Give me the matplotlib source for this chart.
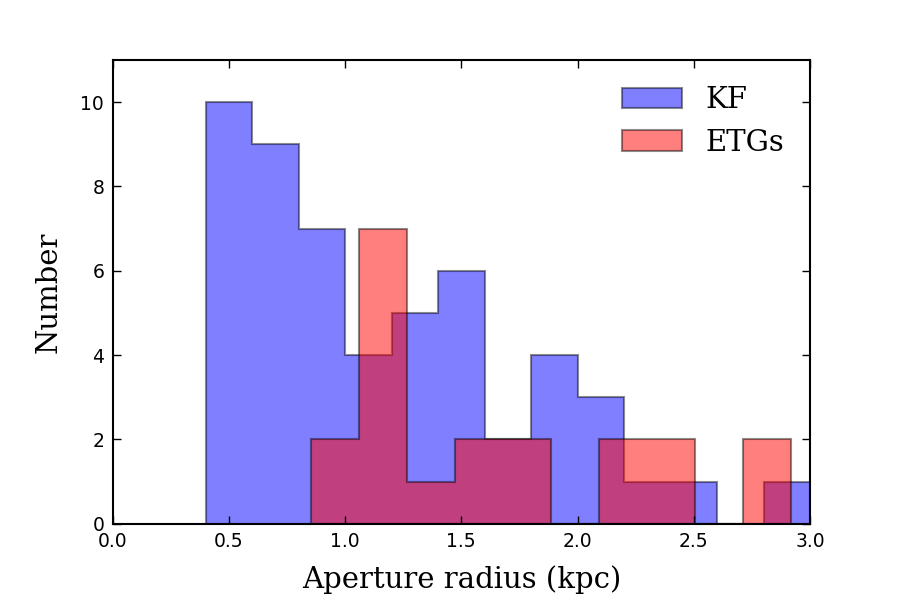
import matplotlib
matplotlib.use("Agg")
import matplotlib.pyplot as plt

# ---- dados ----
kf_edges = [0.4, 0.6, 0.8, 1.0, 1.2, 1.4, 1.6, 1.8, 2.0, 2.2, 2.4, 2.6, 2.8, 3.0]
kf_counts = [10, 9, 7, 4, 5, 6, 2, 4, 3, 1, 1, 0, 1]

etg_edges = [0.852, 1.059, 1.265, 1.472, 1.678, 1.885, 2.092, 2.298, 2.505, 2.711, 2.918]
etg_counts = [2, 7, 1, 2, 2, 0, 2, 2, 0, 2]

x_ticks = [0.0, 0.5, 1.0, 1.5, 2.0, 2.5, 3.0]
y_ticks = [0, 2, 4, 6, 8, 10]

# centros dos bins, usados com weights no hist
kf_centers = [(a + b) / 2 for a, b in zip(kf_edges[:-1], kf_edges[1:])]
etg_centers = [(a + b) / 2 for a, b in zip(etg_edges[:-1], etg_edges[1:])]

fig, ax = plt.subplots(figsize=(9, 6), dpi=100)
plt.subplots_adjust(left=0.125, right=0.9, top=0.9, bottom=0.127)

ax.hist(kf_centers, bins=kf_edges, weights=kf_counts, histtype='stepfilled',
        facecolor=(0, 0, 1, 0.5), edgecolor=(0, 0, 0, 0.45), linewidth=1.5, label='KF')
ax.hist(etg_centers, bins=etg_edges, weights=etg_counts, histtype='stepfilled',
        facecolor=(1, 0, 0, 0.5), edgecolor=(0, 0, 0, 0.45), linewidth=1.5, label='ETGs')

ax.set_xlim(0, 3.0)
ax.set_ylim(0, 11)
ax.set_xticks(x_ticks)
ax.set_xticklabels(['%.1f' % t for t in x_ticks])
ax.set_yticks(y_ticks)

for s in ax.spines.values():
    s.set_linewidth(1.5)

ax.tick_params(direction='in', top=True, right=True, length=6, width=1,
               labelsize=13.5, pad=6)

ax.set_xlabel('Aperture radius (kpc)', family='DejaVu Serif', fontsize=21, labelpad=10)
ax.set_ylabel('Number', family='DejaVu Serif', fontsize=21, labelpad=13)

leg = ax.legend(loc='upper right', frameon=False, prop={'family': 'DejaVu Serif', 'size': 21},
                handlelength=2.05, handleheight=0.72, borderaxespad=0.5)

fig.savefig('out.png', dpi=100)
